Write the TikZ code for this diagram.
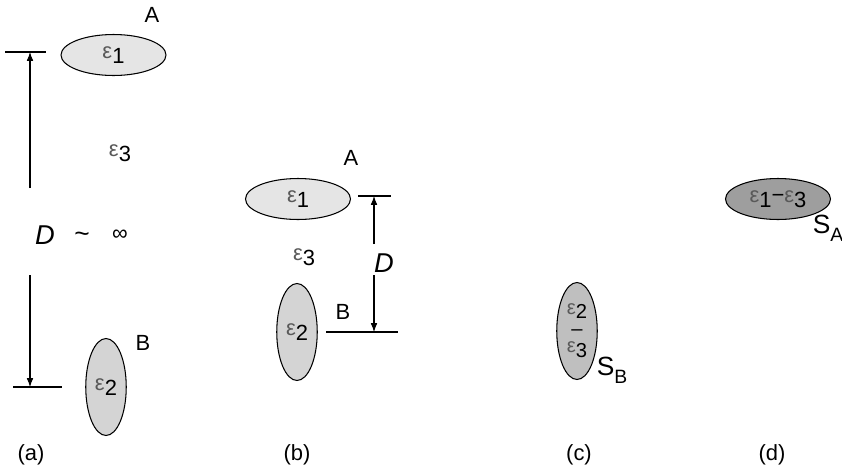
\documentclass[tikz,border=0pt]{standalone}
\usepackage{fontspec}
\setmainfont{Liberation Sans}
\usepackage{xcolor}
\usetikzlibrary{arrows.meta, shapes.geometric}

\newcommand{\epsub}[1]{{\color{black!65}ε}\raisebox{-0.45ex}{#1}}
\newcommand{\ssub}[2]{#1\raisebox{-0.55ex}{\fontsize{11}{12}\selectfont #2}}

\tikzset{
  drop/.style={ellipse, draw, line width=0.6pt, inner sep=0pt},
  flat/.style={drop, minimum width=2.1cm, minimum height=0.82cm},
  tall/.style={drop, minimum width=0.81cm, minimum height=1.94cm},
  dist/.style={-{Latex[length=5pt,width=3.8pt]}, line width=0.6pt},
  tick/.style={line width=0.6pt},
  stack/.style={inner sep=0pt, font=\fontsize{11.5}{12}\selectfont}
}

\begin{document}
\begin{tikzpicture}[x=0.02cm, y=-0.02cm, font=\fontsize{12.5}{14}\selectfont]
  \useasboundingbox (0,0) rectangle (842,467);
  % (a) far apart
  \node[flat, fill=black!10] (a1) at (113.5,55) {\epsub{1}};
  \node[tall, fill=black!17] (a2) at (106,387) {\epsub{2}};
  \node (aA) at (152,15) {A};
  \node (aB) at (143,343) {B};
  \node (ae3) at (120,153) {\epsub{3}};
  \node (aD) at (45,235) {\fontsize{15.5}{16}\selectfont\itshape D};
  \node (at) at (82,237) {\fontsize{15}{16}\selectfont\textasciitilde};
  \node (ainf) at (120,235) {∞};
  \coordinate (atl) at (5,52);   \coordinate (atr) at (46,52);
  \coordinate (abl) at (13,387); \coordinate (abr) at (62,387);
  \coordinate (at0) at (30,188); \coordinate (at1) at (30,52);
  \coordinate (ab0) at (30,275); \coordinate (ab1) at (30,387);
  \draw[tick] (atl) -- (atr);
  \draw[tick] (abl) -- (abr);
  \draw[dist] (at0) -- (at1);
  \draw[dist] (ab0) -- (ab1);
  \node (alab) at (31,455) {(a)};
  % (b) close together
  \node[flat, fill=black!10] (b1) at (298,199) {\epsub{1}};
  \node[tall, fill=black!17] (b2) at (297,332) {\epsub{2}};
  \node (bA) at (351,158) {A};
  \node (bB) at (343,312) {B};
  \node (be3) at (304,257) {\epsub{3}};
  \node (bD) at (384,263) {\fontsize{15.5}{16}\selectfont\itshape D};
  \coordinate (btl) at (358,196); \coordinate (btr) at (391,196);
  \coordinate (bbl) at (326,332); \coordinate (bbr) at (398,332);
  \coordinate (bt0) at (374,244); \coordinate (bt1) at (374,196);
  \coordinate (bb0) at (374,275); \coordinate (bb1) at (374,332);
  \draw[tick] (btl) -- (btr);
  \draw[tick] (bbl) -- (bbr);
  \draw[dist] (bt0) -- (bt1);
  \draw[dist] (bb0) -- (bb1);
  \node (blab) at (297,455) {(b)};
  % (c)
  \node[tall, fill=black!25] (c) at (577,331) {};
  \node[stack] (c2) at (577,311) {\epsub{2}};
  \node[stack] (cm) at (577,333) {–};
  \node[stack] (c3) at (577,350) {\epsub{3}};
  \node (cS) at (612,370) {\fontsize{15}{16}\selectfont\ssub{S}{B}};
  \node (clab) at (579,455) {(c)};
  % (d)
  \node[flat, fill=black!38] (d) at (778,199) {\epsub{1}−\epsub{3}};
  \node[inner sep=1pt] (dS) at (828,228) {\fontsize{15}{16}\selectfont\ssub{S}{A}};
  \node (dlab) at (772,455) {(d)};
\end{tikzpicture}
\end{document}
